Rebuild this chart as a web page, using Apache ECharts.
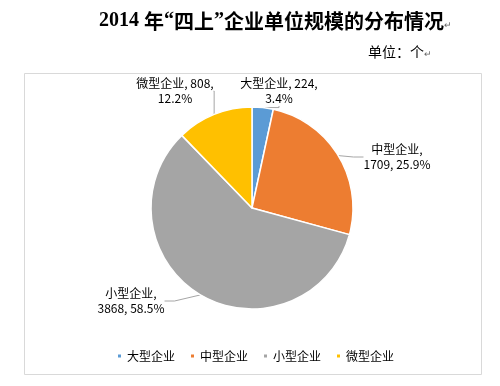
<!DOCTYPE html>
<html><head><meta charset="utf-8">
<script src="https://cdn.jsdelivr.net/npm/echarts@6/dist/echarts.min.js"></script>
<style>html,body{margin:0;padding:0;background:#fff}#c{width:500px;height:386px}</style>
</head><body><div id="c"></div>
<script>
const categories = ['大型企业', '中型企业', '小型企业', '微型企业'];
const counts = [224, 1709, 3868, 808];
const percents = ['3.4%', '25.9%', '58.5%', '12.2%'];
const colors = ['#5B9BD5', '#ED7D31', '#A5A5A5', '#FFC000'];
// label text layout (which line break) per item
const labelBreakAfterCount = [true, false, false, true];
// label centres (px)
const labelPos = [[279, 91], [397, 157], [131, 301], [175, 91]];

const chart = echarts.init(document.getElementById('c'), null, {renderer: 'canvas'});
const cjk = '"Noto Sans CJK SC", "Noto Sans", sans-serif';
const serif = '"Liberation Serif", serif';
chart.setOption({
  backgroundColor: '#fff',
  animation: false,
  color: colors,
  graphic: [
    {type: 'rect', shape: {x: 24.5, y: 73.5, width: 457, height: 301}, style: {fill: 'none', stroke: '#d9d9d9', lineWidth: 1}, z: -1},
    {type: 'text', left: 99, top: 11, style: {
      rich: {
        n: {fontFamily: serif, fontWeight: 'bold', fontSize: 20, fill: '#000'},
        q: {fontFamily: serif, fontWeight: 'bold', fontSize: 20, fill: '#000'},
        c: {fontFamily: cjk, fontWeight: 'bold', fontSize: 20, fill: '#000'},
        r: {fontFamily: cjk, fontSize: 9, fill: '#666', padding: [7, 0, 0, 0]}
      },
      text: '{n|2014 }{c|年}{q|“}{c|四上}{q|”}{c|企业单位规模的分布情况}{r|↵}'
    }},
    {type: 'text', left: 368, top: 45, style: {
      rich: {
        c: {fontFamily: cjk, fontSize: 14, fill: '#000'},
        r: {fontFamily: cjk, fontSize: 9, fill: '#666', padding: [4, 0, 0, 0]}
      },
      text: '{c|单位：个}{r|↵}'
    }}
  ],
  legend: {
    top: 345, left: 111,
    icon: 'rect', itemWidth: 5, itemHeight: 5, itemGap: 14,
    textStyle: {fontFamily: cjk, fontSize: 12, color: '#000'},
    data: categories
  },
  series: [{
    type: 'pie',
    center: [252, 208],
    radius: 101,
    startAngle: 90,
    clockwise: true,
    avoidLabelOverlap: false,
    itemStyle: {borderColor: '#fff', borderWidth: 1.5},
    label: {
      show: true, position: 'outside',
      fontFamily: cjk, fontSize: 12, color: '#000', lineHeight: 15, align: 'center',
      formatter: function (p) {
        const i = p.dataIndex;
        return labelBreakAfterCount[i]
          ? categories[i] + ', ' + counts[i] + ',\n' + percents[i]
          : categories[i] + ',\n' + counts[i] + ', ' + percents[i];
      }
    },
    labelLine: {show: true, length: 8, length2: 10, lineStyle: {color: '#a6a6a6', width: 1}},
    labelLayout: function (params) {
      const pos = labelPos[params.dataIndex];
      return {x: pos[0], y: pos[1], align: 'center', verticalAlign: 'middle'};
    },
    data: categories.map((c, i) => ({name: c, value: counts[i]}))
  }]
});
</script></body></html>
